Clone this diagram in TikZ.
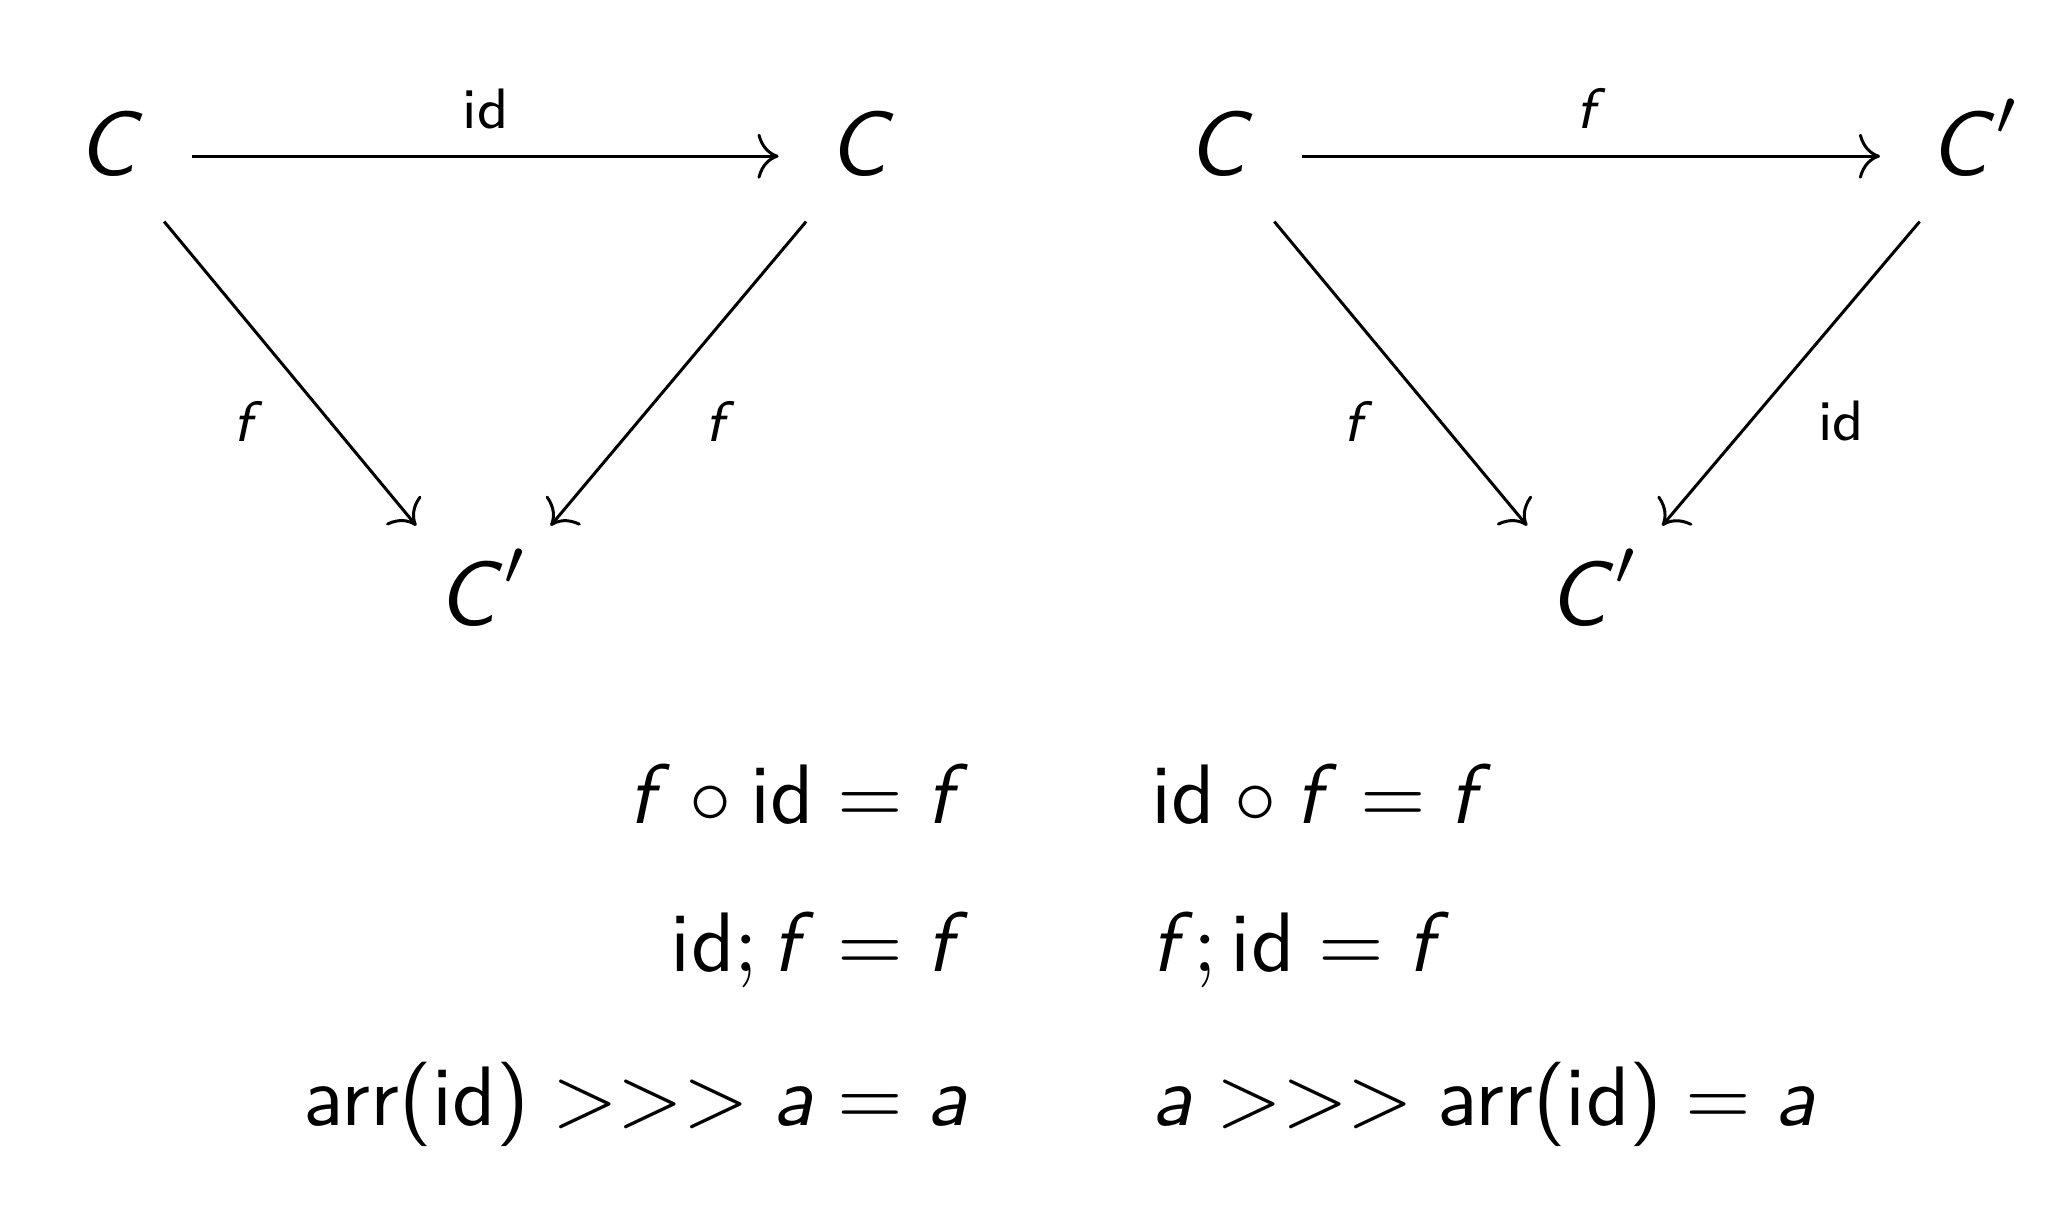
\documentclass[tikz,border=0pt]{standalone}
\usepackage{fix-cm}
\usepackage{fontspec}
\usetikzlibrary{arrows.meta}
\newlength{\du}
\setlength{\du}{0.01cm}
\newcommand{\mv}[1]{\textsf{\textit{#1}}}
\newcommand{\op}[1]{\textsf{#1}}
\tikzset{
  obj/.style={scale=2.4, inner xsep=20\du, inner ysep=8.3\du, text height=26.5\du, text depth=10\du, anchor=base, font=\fontsize{10.8}{13}\selectfont},
  low/.style={inner ysep=14.6\du},
  lbl/.style={scale=2.4, inner sep=10\du, font=\fontsize{6.75}{8}\selectfont},
  law/.style={scale=2.4, inner sep=0pt, font=\fontsize{10}{12}\selectfont},
  mor/.style={line width=0.85pt, -{Computer Modern Rightarrow[length=6pt,width=12.8pt]}}
}
\begin{document}
\begin{tikzpicture}
\pgftransformxscale{1.000000}
\pgftransformyscale{-1.000000}
\useasboundingbox (0\du,0\du) rectangle (2056\du,1222\du);
% left triangle: id then f
\node[obj] (lc) at (110\du,176\du) {$\mv{C}$};
\node[obj] (lcc) at (861\du,176\du) {$\mv{C}$};
\node[obj, low] (lcp) at (483\du,626\du) {$\mv{C}'$};
\draw[mor] (lc) -- node[lbl, anchor=south] (lid) {$\op{id}$} (lcc);
\draw[mor] (lc) -- node[lbl, anchor=north east] (lf) {$\mv{f}$} (lcp);
\draw[mor] (lcc) -- node[lbl, anchor=north west] (lff) {$\mv{f}$} (lcp);
% right triangle: f then id
\node[obj] (rc) at (1220\du,176\du) {$\mv{C}$};
\node[obj] (rcp) at (1975\du,176\du) {$\mv{C}'$};
\node[obj, low] (rcpp) at (1594\du,626\du) {$\mv{C}'$};
\draw[mor] (rc) -- node[lbl, anchor=south] (rf) {$\mv{f}$} (rcp);
\draw[mor] (rc) -- node[lbl, anchor=north east] (rff) {$\mv{f}$} (rcpp);
\draw[mor] (rcp) -- node[lbl, anchor=north west] (rid) {$\op{id}$} (rcpp);
% the laws
\node[law, anchor=base east] (la) at (970\du,824\du) {$\mv{f}\circ\op{id}=\mv{f}$};
\node[law, anchor=base west] (ra) at (1150\du,824\du) {$\op{id}\circ\mv{f}=\mv{f}$};
\node[law, anchor=base east] (lb) at (970\du,972\du) {$\op{id};\mv{f}=\mv{f}$};
\node[law, anchor=base west] (rb) at (1150\du,972\du) {$\mv{f};\op{id}=\mv{f}$};
\node[law, anchor=base east] (lk) at (970\du,1126\du) {$\op{arr(id)}>>>\mv{a}=\mv{a}$};
\node[law, anchor=base west] (rk) at (1150\du,1126\du) {$\mv{a}>>>\op{arr(id)}=\mv{a}$};
\end{tikzpicture}
\end{document}
